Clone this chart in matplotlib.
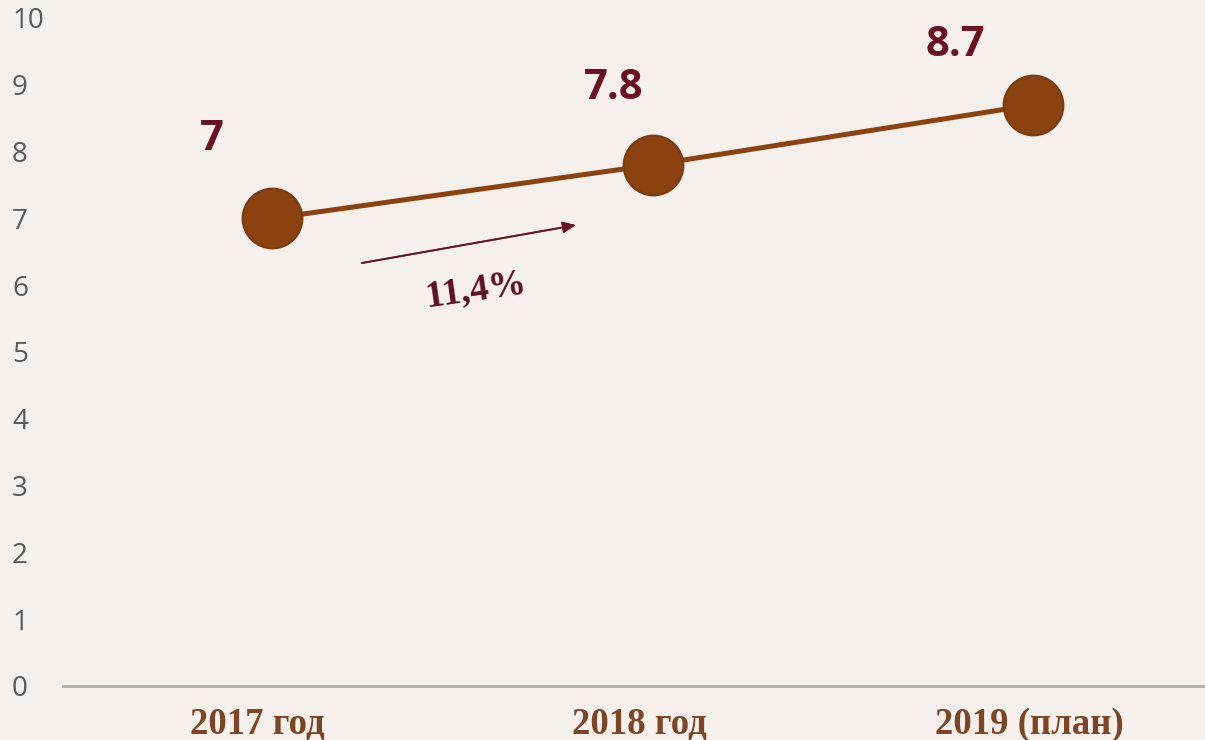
import matplotlib
matplotlib.use("Agg")
import matplotlib.pyplot as plt

categories = ["2017 год", "2018 год", "2019 (план)"]
values = [7, 7.8, 8.7]
value_labels = ["7", "7.8", "8.7"]
y_ticks = list(range(0, 11))
growth_label = "11,4%"

W, H = 1205, 740
bg = "#F5F0EC"
fig = plt.figure(figsize=(W / 100, H / 100), dpi=100, facecolor=bg)

# axes: x from px 63 to 1205, y=0 at px 686
left_px, right_px = 63, 1205
y0_px = 686
unit_px = 66.8
ymax = 10
top_px = y0_px - ymax * unit_px
ax = fig.add_axes([left_px / W, 1 - y0_px / H, (right_px - left_px) / W, (y0_px - top_px) / H])
ax.set_facecolor(bg)

x = list(range(len(categories)))
x_scale = 380.5
ax.set_xlim(-(272 - left_px) / x_scale, 2 + (right_px - 1033) / x_scale)
ax.set_ylim(0, ymax)

brown = "#8B420F"
ax.plot(x, values, color=brown, lw=3.6, marker="o", markersize=43,
        markerfacecolor=brown, markeredgecolor="#7A3A12", markeredgewidth=1.5,
        clip_on=False, zorder=3)

# data labels
offsets = [(-60, 79), (-39, 76), (-78, 59)]
for xi, v, lab, (dx, dy) in zip(x, values, value_labels, offsets):
    ax.annotate(lab, (xi, v), xytext=(dx * 0.72, dy * 0.72), textcoords="offset points",
                ha="center", va="center", fontsize=30, fontweight="bold",
                family="Open Sans", color="#6B1222", annotation_clip=False)

# spines
for s in ["left", "right", "top"]:
    ax.spines[s].set_visible(False)
ax.spines["bottom"].set_color("#B3ADA9")
ax.spines["bottom"].set_linewidth(2)

ax.set_yticks(y_ticks)
ax.set_yticklabels([str(t) for t in y_ticks], fontsize=20, family="Open Sans", color="#595959")
for lab in ax.get_yticklabels():
    lab.set_horizontalalignment("left")
ax.tick_params(axis="y", length=0, pad=(left_px - 12) * 0.72)

label_shift_px = [-15, -13, -4]
ax.set_xticks([xi + s / x_scale for xi, s in zip(x, label_shift_px)])
ax.set_xticklabels(categories, fontsize=26.5, family="Liberation Serif", fontweight="bold", color="#7B4526")
ax.tick_params(axis="x", length=0, pad=15)

# growth arrow
def px_to_data(px, py):
    return ((px - 272) / x_scale, (y0_px - py) / unit_px)

a0 = px_to_data(362, 263)
a1 = px_to_data(576, 225)
ax.annotate("", xy=a1, xytext=a0,
            arrowprops=dict(arrowstyle="-|>,head_length=0.8,head_width=0.35",
                            color="#6A1020", lw=1.3, shrinkA=0, shrinkB=0))
m = px_to_data(560, 228)
ax.plot([a0[0], m[0]], [a0[1], m[1]], color="#5A4A48", lw=1.3, zorder=2)
tx, ty = px_to_data(476, 290)
ax.text(tx, ty, growth_label, fontsize=27, family="Liberation Serif", fontweight="bold",
        color="#5C1020", rotation=8, ha="center", va="center", rotation_mode="anchor")

fig.savefig("out.png", dpi=100, facecolor=bg)
